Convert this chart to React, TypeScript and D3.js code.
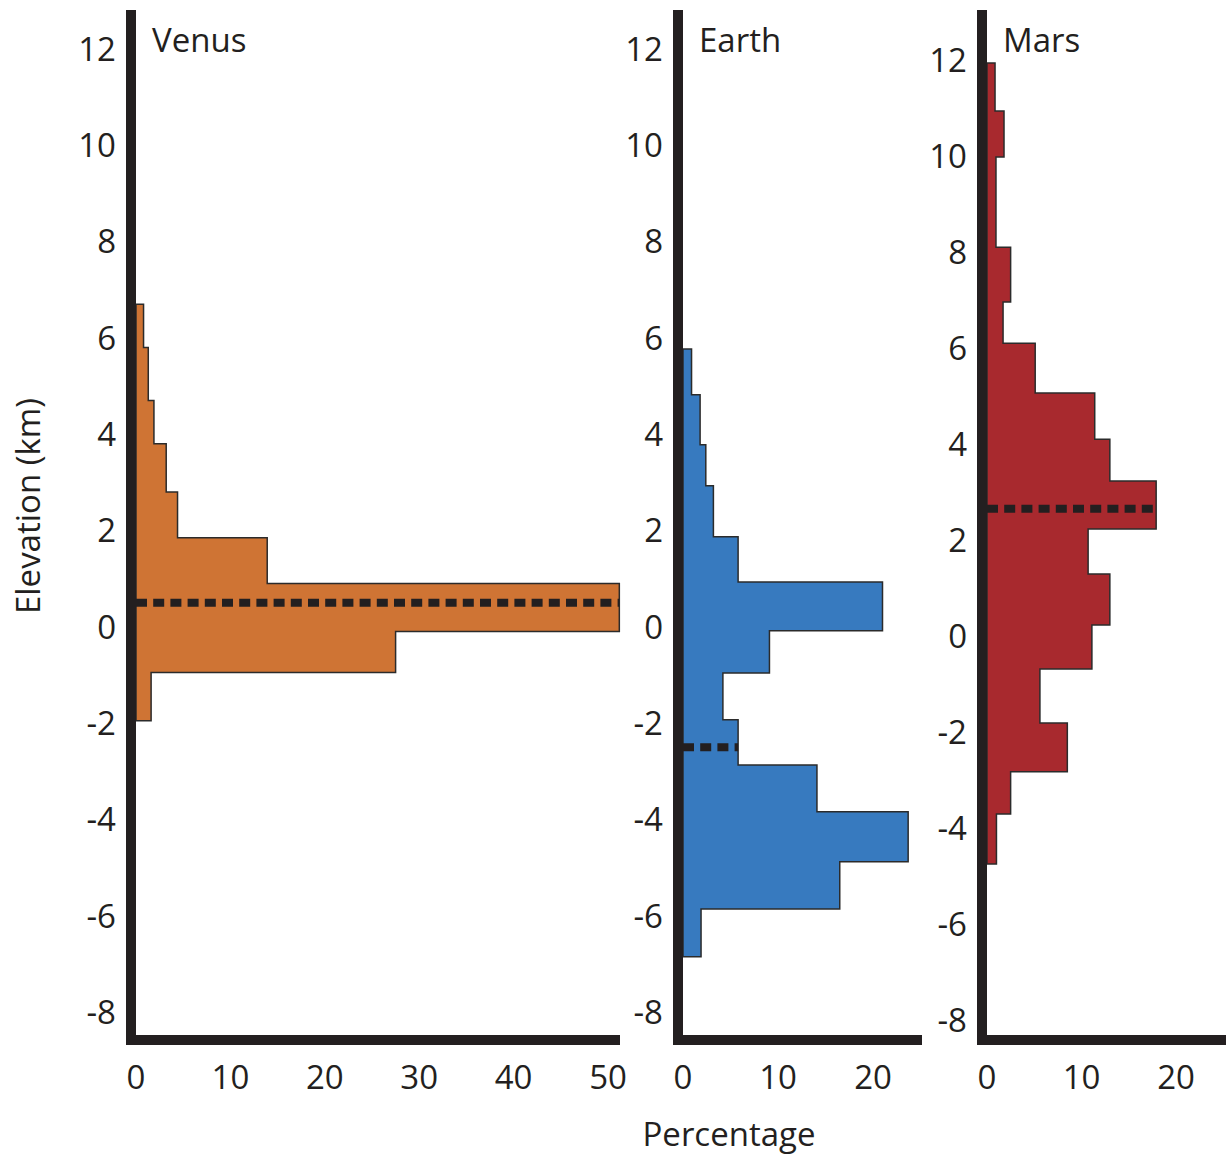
import React from 'react';
import * as d3 from 'd3';

// bin edges (km, top to bottom) and percentage per bin
const venusEdges = [6.7, 5.8, 4.7, 3.8, 2.8, 1.85, 0.9, -0.1, -0.95, -1.95];
const venusPct = [0.8, 1.3, 1.9, 3.2, 4.4, 13.9, 51.2, 27.5, 1.6];
const venusMean = 0.5;

const earthEdges = [5.77, 4.82, 3.78, 2.93, 1.87, 0.93, -0.08, -0.96, -1.93, -2.87, -3.84, -4.88, -5.86, -6.85];
const earthPct = [0.9, 1.8, 2.4, 3.2, 5.8, 21, 9.1, 4.2, 5.8, 14.1, 23.7, 16.5, 1.9];
const earthMean = -2.5;

const marsEdges = [11.94, 10.94, 9.98, 8.1, 6.96, 6.1, 5.06, 4.1, 3.23, 2.23, 1.29, 0.23, -0.69, -1.81, -2.83, -3.71, -4.75];
const marsPct = [0.85, 1.8, 0.95, 2.5, 1.7, 5.1, 11.4, 13.0, 17.9, 10.7, 13.0, 11.1, 5.6, 8.5, 2.5, 1.0];
const marsMean = 2.65;

const yTicks = [12, 10, 8, 6, 4, 2, 0, -2, -4, -6, -8];
const venusXTicks = [0, 10, 20, 30, 40, 50];
const smallXTicks = [0, 10, 20];

const FONT = '"Open Sans", sans-serif';
const INK = '#231f20';

type PanelProps = {
  name: string;
  edges: number[];
  pct: number[];
  mean: number;
  xDomain: [number, number];
  xRange: [number, number];
  yRange: [number, number];
  axisEnd: number;
  xTicks: number[];
  fill: string;
};

const Panel = ({ name, edges, pct, mean, xDomain, xRange, yRange, axisEnd, xTicks, fill }: PanelProps) => {
  const x = d3.scaleLinear().domain(xDomain).range(xRange);
  const y = d3.scaleLinear().domain([-8, 12]).range(yRange);
  const x0 = x(0);

  // outline of stepped histogram
  const pts: [number, number][] = [[0, edges[0]]];
  pct.forEach((v, i) => {
    pts.push([v, edges[i]]);
    pts.push([v, edges[i + 1]]);
  });
  pts.push([0, edges[edges.length - 1]]);
  const line = d3.line<[number, number]>().x(d => x(d[0])).y(d => y(d[1]));
  const path = line(pts) + 'Z';

  const meanBin = pct.findIndex((_, i) => mean <= edges[i] && mean >= edges[i + 1]);
  const meanEnd = x(pct[meanBin]);

  const axisY = 1040;

  return (
    <g>
      <path d={path} fill={fill} stroke="#2b2b2b" strokeWidth={1.5} />
      <line x1={x0} x2={meanEnd} y1={y(mean)} y2={y(mean)} stroke={INK} strokeWidth={8} strokeDasharray="11 6.2" />
      <rect x={x0 - 10} y={10} width={10} height={axisY + 5 - 10} fill={INK} />
      <rect x={x0 - 10} y={axisY - 5} width={axisEnd - x0 + 10} height={10} fill={INK} />
      <text x={x0 + 16} y={52} fontFamily={FONT} fontSize={33} fill={INK}>{name}</text>
      {yTicks.map(t => (
        <text key={t} x={x0 - 20} y={y(t)} dy="0.36em" textAnchor="end" fontFamily={FONT} fontSize={33} fill={INK}>{t}</text>
      ))}
      {xTicks.map(t => (
        <text key={t} x={x(t)} y={1077} dy="0.36em" textAnchor="middle" fontFamily={FONT} fontSize={33} fill={INK}>{t}</text>
      ))}
    </g>
  );
};

export default function App() {
  return (
    <svg width={1226} height={1158} style={{ position: 'absolute', left: 0, top: 0, background: '#fff' }}>
      <Panel name="Venus" edges={venusEdges} pct={venusPct} mean={venusMean}
        xDomain={[0, 50]} xRange={[136, 608]} yRange={[1012, 49]} axisEnd={620} xTicks={venusXTicks} fill="#cf7434" />
      <Panel name="Earth" edges={earthEdges} pct={earthPct} mean={earthMean}
        xDomain={[0, 20]} xRange={[683, 873]} yRange={[1012, 49]} axisEnd={922} xTicks={smallXTicks} fill="#377abf" />
      <Panel name="Mars" edges={marsEdges} pct={marsPct} mean={marsMean}
        xDomain={[0, 20]} xRange={[987, 1176]} yRange={[1020, 60]} axisEnd={1226} xTicks={smallXTicks} fill="#a8292e" />
      <text transform="translate(40,506) rotate(-90)" textAnchor="middle" fontFamily={FONT} fontSize={33} fill={INK}>Elevation (km)</text>
      <text x={729} y={1146} textAnchor="middle" fontFamily={FONT} fontSize={33} fill={INK}>Percentage</text>
    </svg>
  );
}
